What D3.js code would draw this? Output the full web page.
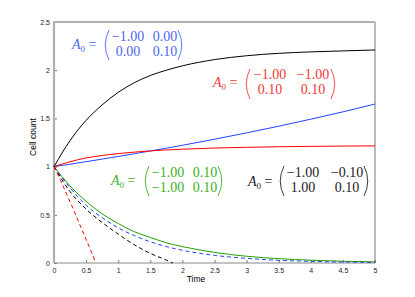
<!DOCTYPE html>
<html>
<head>
<meta charset="utf-8">
<script src="https://cdn.jsdelivr.net/npm/d3@7"></script>
<style>
  body { margin: 0; background: #fff; }
  svg { display: block; }
  .tick text { font-family: "Liberation Sans", Arial, sans-serif; font-size: 7px; fill: #222; }
  text.mat { font-family: "Liberation Serif", "DejaVu Serif", serif; font-size: 14px; }
</style>
</head>
<body>
<svg id="chart" width="415" height="297"></svg>
<script>
// time grids
var tLong = [0, 0.25, 0.5, 0.75, 1, 1.25, 1.5, 1.75, 2, 2.5, 3, 3.5, 4, 4.5, 5];
var tBlackDash = [0, 0.25, 0.5, 0.75, 1, 1.25, 1.5, 1.75, 1.85];
var tRedDash = [0, 0.1, 0.2, 0.3, 0.4, 0.5, 0.6, 0.65];

// values
var blackSolid = [1, 1.27, 1.48, 1.64, 1.77, 1.87, 1.945, 2.0, 2.045, 2.11, 2.15, 2.175, 2.19, 2.2, 2.21];
var redSolid = [1, 1.05, 1.09, 1.115, 1.135, 1.15, 1.163, 1.173, 1.18, 1.193, 1.2, 1.206, 1.21, 1.213, 1.215];
var blueSolid = [1, 1.025, 1.051, 1.078, 1.105, 1.133, 1.162, 1.191, 1.221, 1.284, 1.35, 1.419, 1.492, 1.568, 1.649];
var greenSolid = [1, 0.8, 0.64, 0.51, 0.41, 0.325, 0.265, 0.21, 0.17, 0.11, 0.07, 0.045, 0.029, 0.018, 0.012];
var blueDash = [1, 0.78, 0.6, 0.47, 0.365, 0.285, 0.22, 0.17, 0.132, 0.079, 0.048, 0.028, 0.017, 0.01, 0.006];
var blackDash = [1, 0.74, 0.56, 0.42, 0.3, 0.19, 0.1, 0.03, 0];
var redDash = [1, 0.86, 0.71, 0.56, 0.4, 0.245, 0.085, 0];

var xTicks = [0, 0.5, 1, 1.5, 2, 2.5, 3, 3.5, 4, 4.5, 5];
var yTicks = [0, 0.5, 1, 1.5, 2, 2.5];

var svg = d3.select("#chart");
var L = 54, R = 375, T = 22, B = 263;

var x = d3.scaleLinear().domain([0, 5]).range([L, R]);
var y = d3.scaleLinear().domain([0, 2.5]).range([B, T]);

// axes (ticks point inward)
var xAxis = svg.append("g").attr("transform", "translate(0," + B + ")")
  .call(d3.axisBottom(x).tickValues(xTicks).tickSizeInner(-3).tickSizeOuter(0).tickPadding(5).tickFormat(d3.format("")));
var yAxis = svg.append("g").attr("transform", "translate(" + L + ",0)")
  .call(d3.axisLeft(y).tickValues(yTicks).tickSizeInner(-3).tickSizeOuter(0).tickPadding(4).tickFormat(d3.format("")));
xAxis.select(".domain").remove();
yAxis.select(".domain").remove();
svg.selectAll(".tick line").attr("stroke", "#555").attr("stroke-width", 0.8);

// frame
svg.append("line").attr("x1", L).attr("x2", R).attr("y1", B).attr("y2", B).attr("stroke", "#888").attr("stroke-width", 1);
svg.append("line").attr("x1", R).attr("x2", R).attr("y1", T).attr("y2", B).attr("stroke", "#777").attr("stroke-width", 1);
svg.append("line").attr("x1", L - 1).attr("x2", R).attr("y1", T).attr("y2", T).attr("stroke", "#b0b0b0").attr("stroke-width", 2);
svg.append("line").attr("x1", L).attr("x2", L).attr("y1", T).attr("y2", B).attr("stroke", "#b0b0b0").attr("stroke-width", 2.2);

// axis labels
svg.append("text").attr("x", 196).attr("y", 282).attr("text-anchor", "middle")
  .style("font-family", "Liberation Sans, Arial, sans-serif").style("font-size", "8.5px").text("Time");
svg.append("text").attr("transform", "translate(36,137) rotate(-90)").attr("text-anchor", "middle")
  .style("font-family", "Liberation Sans, Arial, sans-serif").style("font-size", "8.5px").text("Cell count");

// curves
var line = d3.line().x(function(d) { return x(d[0]); }).y(function(d) { return y(d[1]); }).curve(d3.curveMonotoneX);
function draw(ts, vs, color, dashed) {
  svg.append("path").datum(d3.zip(ts, vs)).attr("d", line)
    .attr("fill", "none").attr("stroke", color).attr("stroke-width", 1)
    .attr("stroke-dasharray", dashed ? "4,3" : null);
}
draw(tLong, greenSolid, "#22a000", false);
draw(tLong, blueDash, "#2244ff", true);
draw(tBlackDash, blackDash, "#000", true);
draw(tRedDash, redDash, "#ff0000", true);
draw(tLong, blueSolid, "#2244ff", false);
draw(tLong, redSolid, "#ff0000", false);
draw(tLong, blackSolid, "#000", false);

// matrix annotations
var annots = [
  { color: "#4d68f0", ax: 72, ay: 49, pl: 104, pr: 183, top: 30, bot: 60, r1: 41, r2: 56, c1: 128, c2: 165, cells: ["\u22121.00", "0.00", "0.00", "0.10"] },
  { color: "#f03a3a", ax: 213, ay: 87, pl: 245, pr: 336, top: 69, bot: 99, r1: 79, r2: 94, c1: 270, c2: 313, cells: ["\u22121.00", "\u22121.00", "0.10", "0.10"] },
  { color: "#3db01c", ax: 111, ay: 185, pl: 144, pr: 223, top: 166, bot: 196, r1: 177, r2: 192, c1: 168, c2: 205, cells: ["\u22121.00", "0.10", "\u22121.00", "0.10"] },
  { color: "#222", ax: 248, ay: 186, pl: 279, pr: 369, top: 166, bot: 196, r1: 177, r2: 192, c1: 303, c2: 347, cells: ["\u22121.00", "\u22120.10", "1.00", "0.10"] }
];
annots.forEach(function(a) {
  var g = svg.append("g").attr("fill", a.color);
  var t = g.append("text").attr("class", "mat").attr("x", a.ax).attr("y", a.ay);
  t.append("tspan").style("font-style", "italic").text("A");
  t.append("tspan").attr("dy", 3).style("font-size", "9px").text("0");
  t.append("tspan").attr("dy", -3).text(" =");
  [[a.c1, a.r1, 0], [a.c2, a.r1, 1], [a.c1, a.r2, 2], [a.c2, a.r2, 3]].forEach(function(c) {
    g.append("text").attr("class", "mat").attr("x", c[0]).attr("y", c[1]).attr("text-anchor", "middle").text(a.cells[c[2]]);
  });
  var mid = (a.top + a.bot) / 2;
  g.append("path").attr("d", "M" + (a.pl + 5) + "," + a.top + " Q" + (a.pl - 2.5) + "," + mid + " " + (a.pl + 5) + "," + a.bot)
    .attr("fill", "none").attr("stroke", a.color).attr("stroke-width", 0.9);
  g.append("path").attr("d", "M" + (a.pr - 5) + "," + a.top + " Q" + (a.pr + 2.5) + "," + mid + " " + (a.pr - 5) + "," + a.bot)
    .attr("fill", "none").attr("stroke", a.color).attr("stroke-width", 0.9);
});
</script>
</body>
</html>
